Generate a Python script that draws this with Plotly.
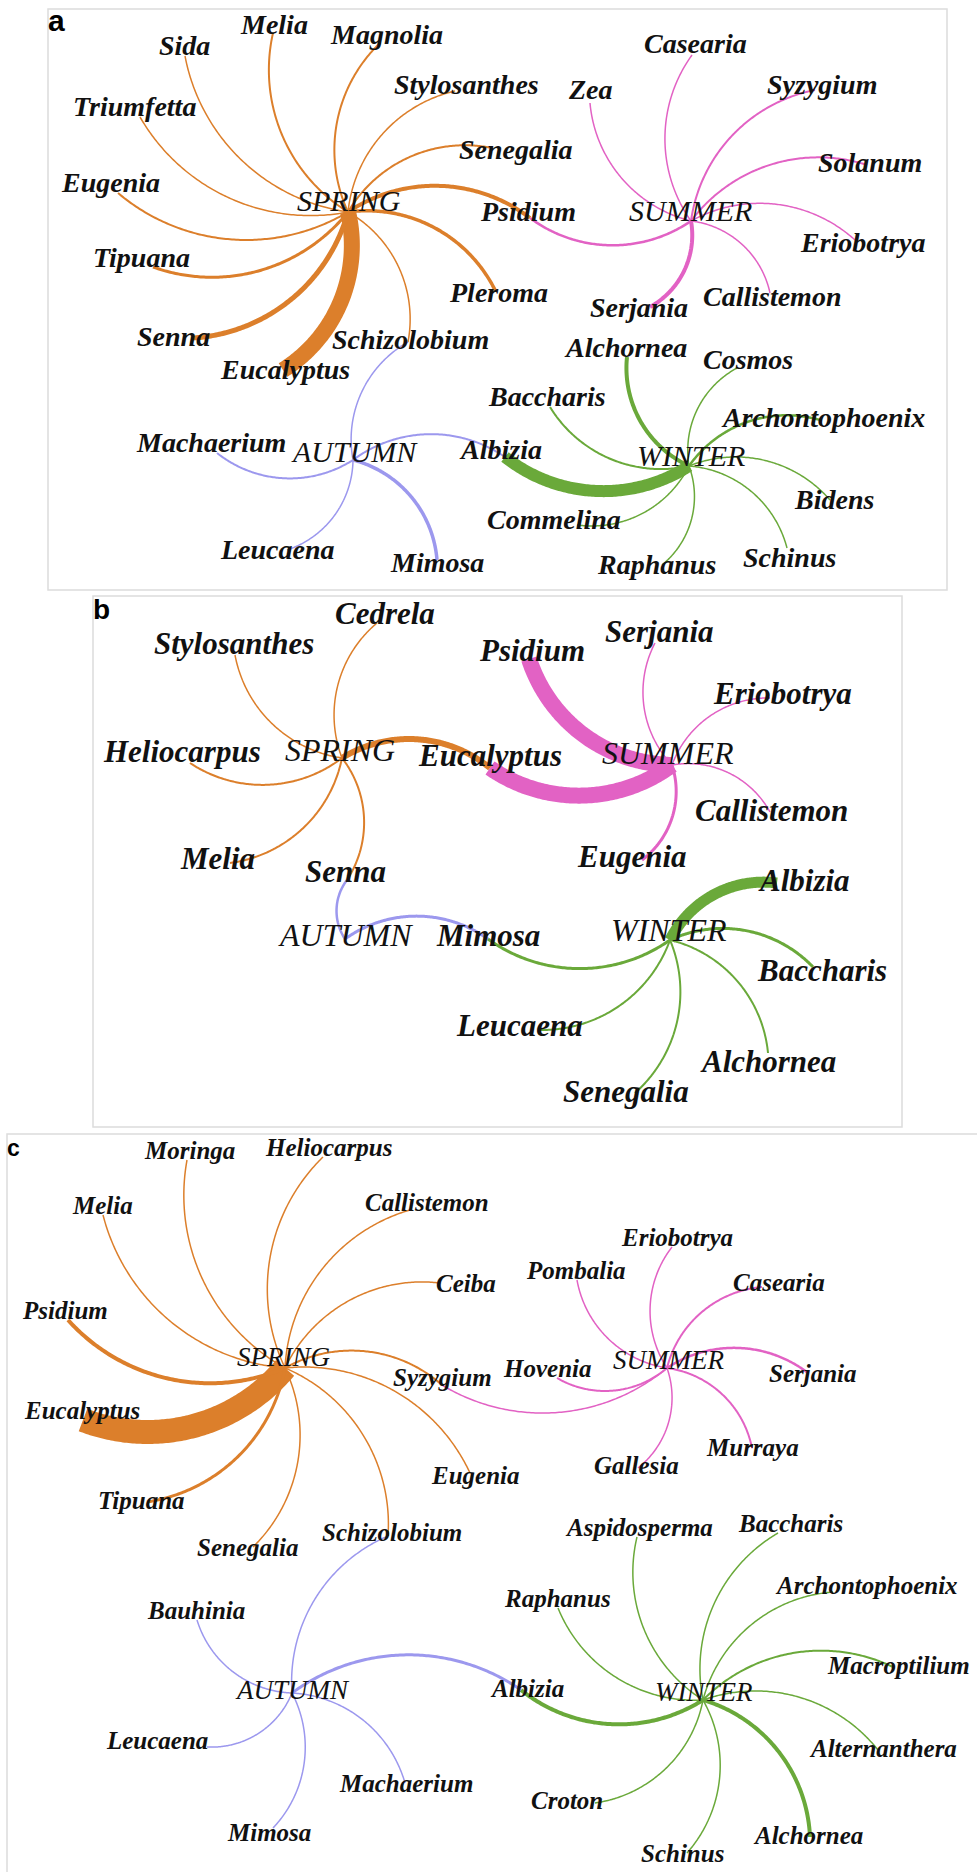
import math
import plotly.graph_objects as go

# ---------------- Panel a : network layout + links ----------------
A_NODE = ["SPRING", "SUMMER", "AUTUMN", "WINTER",
          "Melia", "Sida", "Magnolia", "Triumfetta", "Stylosanthes", "Senegalia", "Psidium",
          "Pleroma", "Schizolobium", "Eucalyptus", "Senna", "Tipuana", "Eugenia",
          "Zea", "Casearia", "Syzygium", "Solanum", "Eriobotrya", "Callistemon", "Serjania",
          "Machaerium", "Leucaena", "Mimosa", "Albizia",
          "Alchornea", "Cosmos", "Baccharis", "Archontophoenix", "Bidens", "Schinus", "Raphanus", "Commelina"]
A_X = [348, 691, 353, 689,
       273, 185, 380, 140, 455, 492, 530, 495, 408, 283, 193, 153, 118,
       590, 692, 815, 867, 855, 770, 650,
       217, 287, 437, 505,
       627, 737, 550, 820, 830, 787, 662, 577]
A_Y = [212, 221, 460, 466,
       33, 56, 43, 117, 91, 148, 218, 290, 342, 370, 338, 267, 193,
       103, 55, 90, 165, 240, 293, 307,
       453, 550, 560, 457,
       357, 368, 407, 420, 500, 548, 565, 525]
A_LABEL_X = [349, 690, 354, 691,
             274, 184, 386, 134, 466, 516, 528, 498, 410, 285, 173, 141, 110,
             590, 695, 822, 870, 862, 772, 639,
             211, 277, 437, 500,
             625, 748, 547, 823, 834, 789, 656, 554]
A_LABEL_Y = [212, 222, 463, 467,
             35, 56, 45, 117, 95, 160, 222, 303, 350, 380, 347, 268, 193,
             100, 54, 95, 173, 253, 307, 318,
             453, 560, 573, 460,
             358, 370, 407, 428, 510, 568, 575, 530]
A_SRC = ["SPRING"] * 13 + ["SUMMER"] * 8 + ["AUTUMN"] * 5 + ["WINTER"] * 9
A_TGT = ["Melia", "Sida", "Magnolia", "Triumfetta", "Stylosanthes", "Senegalia", "Psidium",
         "Pleroma", "Schizolobium", "Eucalyptus", "Senna", "Tipuana", "Eugenia",
         "Zea", "Casearia", "Syzygium", "Solanum", "Eriobotrya", "Callistemon", "Serjania", "Psidium",
         "Schizolobium", "Machaerium", "Leucaena", "Mimosa", "Albizia",
         "Alchornea", "Cosmos", "Baccharis", "Archontophoenix", "Bidens", "Schinus", "Raphanus",
         "Commelina", "Albizia"]
A_W = [2, 1.5, 2, 1.5, 1.5, 2, 4, 3.5, 1.5, 16, 5, 3, 2,
       1.5, 1.5, 2, 2, 1.5, 1.5, 4, 2.5,
       1.5, 2, 1.5, 3.5, 2,
       4, 1.5, 2, 2.5, 1.5, 1.5, 1.5, 1.5, 12]

# ---------------- Panel b ----------------
B_NODE = ["SPRING", "SUMMER", "AUTUMN", "WINTER",
          "Stylosanthes", "Cedrela", "Heliocarpus", "Melia", "Senna", "Eucalyptus",
          "Psidium", "Serjania", "Eriobotrya", "Callistemon", "Eugenia",
          "Mimosa",
          "Albizia", "Baccharis", "Alchornea", "Senegalia", "Leucaena"]
B_X = [342, 672, 345, 670,
       235, 377, 190, 230, 347, 490,
       529, 655, 770, 770, 642,
       488,
       777, 813, 768, 635, 540]
B_Y = [758, 765, 939, 940,
       655, 623, 763, 863, 880, 768,
       659, 643, 698, 812, 860,
       939,
       883, 967, 1053, 1093, 1030]
B_LABEL_X = [340, 668, 345, 669,
             234, 385, 182, 217, 345, 490,
             532, 659, 782, 771, 632,
             488,
             804, 822, 768, 626, 519]
B_LABEL_Y = [762, 765, 947, 942,
             655, 625, 763, 870, 883, 767,
             662, 643, 705, 822, 868,
             947,
             892, 982, 1073, 1103, 1037]
B_SRC = ["SPRING"] * 6 + ["SUMMER"] * 6 + ["AUTUMN"] * 2 + ["WINTER"] * 6
B_TGT = ["Stylosanthes", "Cedrela", "Heliocarpus", "Melia", "Senna", "Eucalyptus",
         "Psidium", "Eucalyptus", "Serjania", "Eriobotrya", "Callistemon", "Eugenia",
         "Senna", "Mimosa",
         "Mimosa", "Albizia", "Baccharis", "Alchornea", "Senegalia", "Leucaena"]
B_W = [1.5, 1.5, 2, 2, 2, 6,
       16, 16, 1.5, 1.5, 1.5, 3,
       2.5, 3,
       3, 11, 3, 2, 2, 2]

# ---------------- Panel c ----------------
C_NODE = ["SPRING", "SUMMER", "AUTUMN", "WINTER",
          "Moringa", "Heliocarpus", "Melia", "Callistemon", "Ceiba", "Psidium", "Syzygium",
          "Eugenia", "Schizolobium", "Senegalia", "Tipuana", "Eucalyptus",
          "Eriobotrya", "Pombalia", "Casearia", "Serjania", "Murraya", "Gallesia", "Hovenia",
          "Bauhinia", "Leucaena", "Mimosa", "Machaerium", "Albizia",
          "Aspidosperma", "Baccharis", "Raphanus", "Archontophoenix", "Macroptilium",
          "Alternanthera", "Alchornea", "Schinus", "Croton"]
C_X = [285, 667, 292, 703,
       187, 323, 103, 410, 440, 68, 442, 470, 388, 253, 147, 83,
       672, 577, 762, 808, 752, 638, 557,
       197, 207, 273, 405, 521,
       637, 778, 558, 833, 893, 878, 810, 687, 595]
C_Y = [1368, 1368, 1693, 1700,
       1160, 1157, 1215, 1210, 1283, 1320, 1385, 1473, 1536, 1547, 1502, 1420,
       1247, 1280, 1287, 1373, 1448, 1468, 1378,
       1620, 1747, 1828, 1783, 1690,
       1537, 1533, 1608, 1592, 1667, 1750, 1837, 1853, 1803]
C_LABEL_X = [283, 668, 292, 704,
             189, 328, 102, 427, 466, 65, 442, 475, 392, 247, 141, 82,
             677, 576, 779, 813, 752, 636, 547,
             196, 157, 269, 406, 527,
             639, 790, 557, 866, 898, 883, 808, 682, 567]
C_LABEL_Y = [1367, 1370, 1700, 1702,
             1160, 1157, 1215, 1212, 1293, 1320, 1387, 1485, 1542, 1557, 1510, 1420,
             1247, 1280, 1292, 1383, 1457, 1475, 1378,
             1620, 1750, 1842, 1793, 1698,
             1537, 1533, 1608, 1595, 1675, 1758, 1845, 1863, 1810]
C_SRC = ["SPRING"] * 12 + ["SUMMER"] * 8 + ["AUTUMN"] * 6 + ["WINTER"] * 10
C_TGT = ["Moringa", "Heliocarpus", "Melia", "Callistemon", "Ceiba", "Psidium", "Syzygium",
         "Eugenia", "Schizolobium", "Senegalia", "Tipuana", "Eucalyptus",
         "Eriobotrya", "Pombalia", "Casearia", "Serjania", "Murraya", "Gallesia", "Hovenia", "Syzygium",
         "Schizolobium", "Bauhinia", "Leucaena", "Mimosa", "Machaerium", "Albizia",
         "Aspidosperma", "Baccharis", "Raphanus", "Archontophoenix", "Macroptilium",
         "Alternanthera", "Alchornea", "Schinus", "Croton", "Albizia"]
C_W = [1.5, 1.5, 1.5, 1.5, 1.5, 4, 2, 1.5, 1.5, 1.5, 3, 24,
       1.5, 1.5, 2, 2.5, 2, 1.5, 2, 1.5,
       1.5, 1.5, 1.5, 1.5, 1.5, 3,
       1.5, 1.5, 1.5, 1.5, 2, 1.5, 4, 1.5, 1.5, 4]

HUBS = ["SPRING", "SUMMER", "AUTUMN", "WINTER"]
SEASON_COLOR = {"SPRING": "#dc7f2b", "SUMMER": "#e262c4",
                "AUTUMN": "#9c98ee", "WINTER": "#6aa93a"}

FIG_W, FIG_H = 977, 1872
PANELS = [
    dict(letter="a", box=(48, 9, 947, 590), nodes=A_NODE, x=A_X, y=A_Y, lx=A_LABEL_X, ly=A_LABEL_Y,
         src=A_SRC, tgt=A_TGT, w=A_W, genus_size=28, hub_size=30, letter_size=30, letter_xy=(46, 32)),
    dict(letter="b", box=(93, 596, 902, 1127), nodes=B_NODE, x=B_X, y=B_Y, lx=B_LABEL_X, ly=B_LABEL_Y,
         src=B_SRC, tgt=B_TGT, w=B_W, genus_size=31, hub_size=32, letter_size=28, letter_xy=(91, 620)),
    dict(letter="c", box=(7, 1134, 977, 1872), nodes=C_NODE, x=C_X, y=C_Y, lx=C_LABEL_X, ly=C_LABEL_Y,
         src=C_SRC, tgt=C_TGT, w=C_W, genus_size=25, hub_size=27, letter_size=23, letter_xy=(5, 1157)),
]


def arc_points(x0, y0, x1, y1, k=0.16, n=120):
    """Minor circular arc from hub to leaf, bulging to the left of travel (screen coords)."""
    dx, dy = x1 - x0, y1 - y0
    d = math.hypot(dx, dy)
    nx, ny = dy / d, -dx / d
    s = k * d
    r = (d * d / 4 + s * s) / (2 * s)
    mx, my = (x0 + x1) / 2, (y0 + y1) / 2
    cx, cy = mx - (r - s) * nx, my - (r - s) * ny
    a0 = math.atan2(y0 - cy, x0 - cx)
    a1 = math.atan2(y1 - cy, x1 - cx)
    da = (a1 - a0 + math.pi) % (2 * math.pi) - math.pi
    xs = [cx + r * math.cos(a0 + da * t / n) for t in range(n + 1)]
    ys = [cy + r * math.sin(a0 + da * t / n) for t in range(n + 1)]
    return xs, ys


fig = go.Figure()
annotations = []
shapes = []
layout_axes = {}

for i, p in enumerate(PANELS):
    sfx = "" if i == 0 else str(i + 1)
    xa, ya = "x" + sfx, "y" + sfx
    x0, y0, x1, y1 = p["box"]
    layout_axes["xaxis" + sfx] = dict(domain=[x0 / FIG_W, x1 / FIG_W], range=[x0, x1], visible=False,
                                      fixedrange=True, anchor=ya)
    layout_axes["yaxis" + sfx] = dict(domain=[1 - y1 / FIG_H, 1 - y0 / FIG_H], range=[y1, y0], visible=False,
                                      fixedrange=True, anchor=xa)
    pos = {nm: (p["x"][j], p["y"][j]) for j, nm in enumerate(p["nodes"])}

    # links, thick ones first
    order = sorted(range(len(p["src"])), key=lambda j: -p["w"][j])
    for j in order:
        s, t = p["src"][j], p["tgt"][j]
        xs, ys = arc_points(*pos[s], *pos[t])
        fig.add_trace(go.Scatter(x=xs, y=ys, mode="lines", xaxis=xa, yaxis=ya,
                                 line=dict(color=SEASON_COLOR[s], width=p["w"][j], simplify=False),
                                 hoverinfo="skip", showlegend=False))

    # labels
    for j, nm in enumerate(p["nodes"]):
        hub = nm in HUBS
        fs = p["hub_size"] if hub else p["genus_size"]
        txt = f"<i>{nm}</i>" if hub else f"<b><i>{nm}</i></b>"
        annotations.append(dict(x=p["lx"][j], y=p["ly"][j], xref=xa, yref=ya, text=txt,
                                showarrow=False, xanchor="center", yanchor="bottom",
                                yshift=-(0.216 * fs + 1),
                                font=dict(family="Liberation Serif", size=fs, color="#111111")))

    # panel border
    shapes.append(dict(type="rect", xref="paper", yref="paper",
                       x0=x0 / FIG_W, x1=(x1 + (10 if p["letter"] == "c" else 0)) / FIG_W,
                       y0=1 - (y1 + (10 if p["letter"] == "c" else 0)) / FIG_H, y1=1 - y0 / FIG_H,
                       line=dict(color="#dcdcdc", width=1.5), layer="below"))
    lxp, lyp = p["letter_xy"]
    annotations.append(dict(x=lxp / FIG_W, y=1 - lyp / FIG_H, xref="paper", yref="paper",
                            text=f"<b>{p['letter']}</b>", showarrow=False, xanchor="left", yanchor="bottom",
                            yshift=-(0.212 * p["letter_size"] + 1),
                            font=dict(family="Liberation Sans", size=p["letter_size"], color="black")))

fig.update_layout(width=FIG_W, height=FIG_H, margin=dict(l=0, r=0, t=0, b=0),
                  paper_bgcolor="white", plot_bgcolor="white", showlegend=False,
                  annotations=annotations, shapes=shapes, **layout_axes)
fig.write_html("out.html", config={"displayModeBar": False},
               post_script="document.body.style.margin='0px';document.body.style.padding='0px';")
